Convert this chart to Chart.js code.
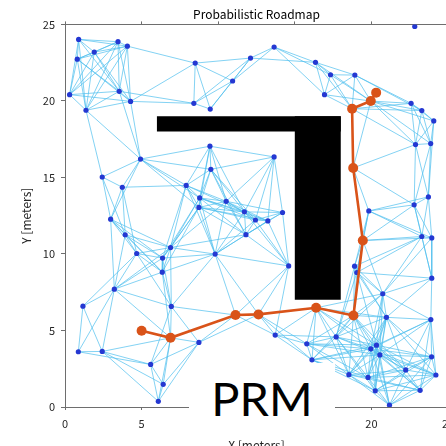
<!DOCTYPE html>
<html>
<head>
<meta charset="utf-8">
<script src="https://cdn.jsdelivr.net/npm/chart.js@4/dist/chart.umd.min.js"></script>
<style>
  html, body { margin: 0; padding: 0; background: #fff; overflow: hidden; width: 446px; height: 446px; }
  #wrap { position: relative; width: 470px; height: 456px; }
  #prm { position: absolute; left: 189px; top: 363px; width: 146px; height: 70px; background: #fff;
         font-family: Lato, "Open Sans", sans-serif; font-size: 47px; color: #000;
         display: flex; align-items: center; justify-content: center; line-height: 1; }
</style>
</head>
<body>
<div id="wrap">
  <canvas id="c" width="470" height="456"></canvas>
  <div id="prm">PRM</div>
</div>
<script>
// Roadmap nodes
const nodeX = [0.89,3.46,4.07,1.91,0.80,8.50,0.30,3.54,4.28,1.37,8.41,9.48,4.93,9.46,2.43,3.74,7.91,9.52,8.79,8.74,2.98,
  22.83,13.65,12.11,10.94,16.35,17.33,18.92,16.94,19.96,18.74,22.59,23.29,24.07,22.88,23.87,13.65,18.81,23.72,22.79,19.83,14.20,10.52,11.71,12.43,13.24,
  19.44,23.29,23.94,11.81,14.60,18.90,19.05,23.94,20.74,20.98,23.88,18.83,16.39,12.63,11.13,13.72,15.78,17.70,16.12,19.96,20.33,20.55,23.93,22.24,24.21,18.53,19.78,20.25,23.18,21.18,
  3.93,6.89,4.68,6.37,9.80,6.35,3.22,6.94,1.17,6.89,8.74,0.87,2.43,5.59,6.41,6.09];
const nodeY = [24.02,23.87,23.58,23.19,22.73,22.47,20.41,20.63,19.97,19.39,19.84,19.47,16.20,17.04,15.03,14.36,14.48,15.53,13.66,13.04,12.27,
  24.87,23.52,22.80,21.30,22.52,21.71,21.69,20.41,19.99,19.49,19.84,19.37,18.69,17.15,17.21,16.34,15.62,13.73,13.21,12.81,12.71,13.44,12.75,12.22,12.16,
  10.88,11.14,11.05,11.26,9.22,9.20,8.79,8.42,7.40,5.86,5.71,5.98,6.48,6.05,6.01,4.70,4.13,4.58,3.08,3.80,4.04,3.40,3.28,2.42,2.09,2.11,1.93,1.06,1.09,0.12,
  11.25,10.42,10.03,9.73,9.99,8.81,7.70,6.57,6.59,4.52,4.22,3.61,3.63,2.78,1.48,0.37];

// Planned path (start -> goal)
const pathX = [5.00,6.89,11.13,12.63,16.39,18.83,19.44,18.81,18.74,19.96,20.31];
const pathY = [4.98,4.52,6.01,6.05,6.48,5.98,10.88,15.62,19.49,19.99,20.54];

// Obstacles (rectangles)
const obsX0 = [6, 15];
const obsX1 = [18, 18];
const obsY0 = [18, 7];
const obsY1 = [19, 19];

const axisMin = 0, axisMax = 25, tickStep = 5;
const connectionDistance = 5;

function insideObstacle(x, y) {
  for (let k = 0; k < obsX0.length; k++) {
    if (x >= obsX0[k] && x <= obsX1[k] && y >= obsY0[k] && y <= obsY1[k]) return true;
  }
  return false;
}
function segmentFree(x1, y1, x2, y2) {
  const n = 200;
  for (let s = 0; s <= n; s++) {
    const t = s / n;
    if (insideObstacle(x1 + (x2 - x1) * t, y1 + (y2 - y1) * t)) return false;
  }
  return true;
}
// roadmap edges: node pairs within the connection distance with a free segment
const edgeData = [];
for (let i = 0; i < nodeX.length; i++) {
  for (let j = i + 1; j < nodeX.length; j++) {
    const d = Math.hypot(nodeX[i] - nodeX[j], nodeY[i] - nodeY[j]);
    if (d <= connectionDistance && segmentFree(nodeX[i], nodeY[i], nodeX[j], nodeY[j])) {
      edgeData.push({x: nodeX[i], y: nodeY[i]}, {x: nodeX[j], y: nodeY[j]}, {x: nodeX[j], y: null});
    }
  }
}
const nodeData = nodeX.map((x, i) => ({x, y: nodeY[i]}));
const pathData = pathX.map((x, i) => ({x, y: pathY[i]}));
const obstacleSets = obsX0.map((x0, k) => ({
  data: [{x: x0, y: obsY0[k]}, {x: x0, y: obsY1[k]}, {x: obsX1[k], y: obsY1[k]}, {x: obsX1[k], y: obsY0[k]}, {x: x0, y: obsY0[k]}],
  showLine: true, fill: 'shape', backgroundColor: '#000', borderColor: '#000', borderWidth: 0,
  pointRadius: 0, order: 3
}));

const fontFam = '"Noto Sans CJK JP", "Noto Sans", sans-serif';
const axisColor = '#6e6e6e';
const tickColor = '#262626';

new Chart(document.getElementById('c'), {
  type: 'scatter',
  data: {
    datasets: [
      { data: pathData, showLine: true, borderColor: '#D95319', backgroundColor: '#D95319', borderWidth: 2.6,
        pointRadius: 5, pointBorderWidth: 0, pointBackgroundColor: '#D95319', order: 0 },
      { data: nodeData, pointRadius: 2.6, pointBorderWidth: 0, pointBackgroundColor: '#2438d2', order: 1 },
      { data: edgeData, showLine: true, spanGaps: false, borderColor: 'rgba(77,190,238,0.78)', borderWidth: 0.9,
        pointRadius: 0, order: 2 },
      ...obstacleSets
    ]
  },
  options: {
    responsive: false, animation: false, events: [],
    layout: { padding: { left: 0, right: 22, top: 0, bottom: 0 } },
    plugins: {
      legend: { display: false }, tooltip: { enabled: false },
      title: { display: true, text: 'Probabilistic Roadmap', fullSize: false, color: '#000',
               font: { family: fontFam, size: 12, weight: 'normal' }, padding: { top: 7, bottom: 3 } }
    },
    scales: {
      x: { type: 'linear', position: 'bottom', min: axisMin, max: axisMax,
           ticks: { stepSize: tickStep, color: tickColor, padding: 7, font: { family: fontFam, size: 11 }, maxRotation: 0 },
           grid: { drawOnChartArea: false, tickLength: 3, color: axisColor }, border: { color: axisColor },
           title: { display: true, text: 'X [meters]', color: tickColor, font: { family: fontFam, size: 12 }, padding: { top: 0, bottom: 3 } },
           afterFit(s) { s.height = 49; s.paddingLeft = 0; s.paddingRight = 0; } },
      x2: { type: 'linear', position: 'top', min: axisMin, max: axisMax,
            ticks: { stepSize: tickStep, display: false },
            grid: { drawOnChartArea: false, tickLength: 3, color: axisColor }, border: { color: axisColor },
            afterFit(s) { s.height = 0; s.paddingLeft = 0; s.paddingRight = 0; } },
      y: { type: 'linear', position: 'left', min: axisMin, max: axisMax,
           ticks: { stepSize: tickStep, color: tickColor, padding: 6, font: { family: fontFam, size: 11 } },
           grid: { drawOnChartArea: false, tickLength: 4, color: axisColor }, border: { color: axisColor },
           title: { display: true, text: 'Y [meters]', color: tickColor, font: { family: fontFam, size: 12 }, padding: { top: 19, bottom: 0 } },
           afterFit(s) { s.width = 65; s.paddingTop = 0; s.paddingBottom = 0; } }
    }
  }
});
</script>
</body>
</html>
